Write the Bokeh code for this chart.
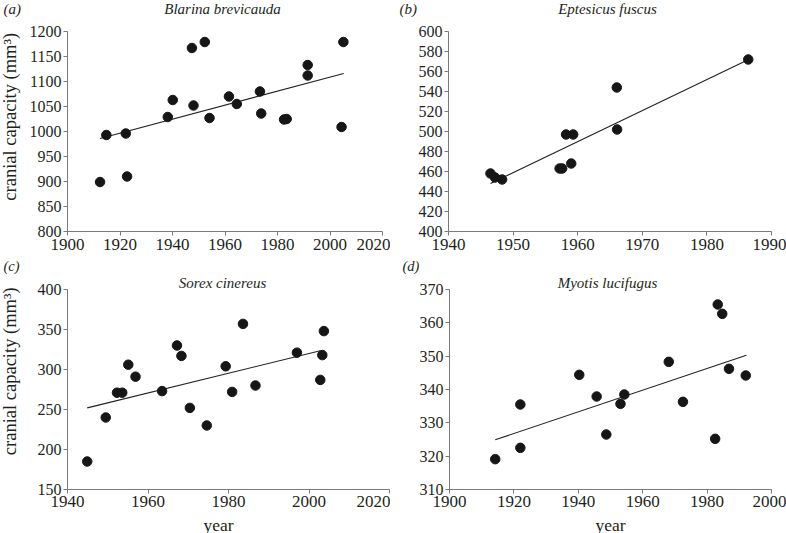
import math
from bokeh.plotting import figure
from bokeh.models import Range1d, FixedTicker, Label
from bokeh.layouts import column, row
from bokeh.embed import file_html
from bokeh.resources import INLINE

# ---------------- data ----------------
blarina_year = [1912.4, 1914.8, 1922.2, 1922.7, 1938.2, 1940.1, 1947.4, 1948.0, 1952.3, 1954.1,
                1961.5, 1964.5, 1973.3, 1973.8, 1982.5, 1983.5, 1991.5, 1991.5, 2004.4, 2005.1]
blarina_cc = [899, 993, 996, 910, 1029, 1063, 1167, 1052, 1179, 1027,
              1070, 1055, 1080, 1036, 1024, 1025, 1133, 1112, 1009, 1179]
blarina_fit_year = [1912.4, 2005.2]
blarina_fit_cc = [986, 1116]

eptesicus_year = [1946.5, 1947.2, 1948.3, 1957.2, 1957.6, 1958.2, 1959.3, 1959.0, 1966.05, 1966.1, 1986.4]
eptesicus_cc = [458, 454, 452, 463, 463, 497, 497, 468, 544, 502, 572]
eptesicus_fit_year = [1946.5, 1986.3]
eptesicus_fit_cc = [448, 571.5]

sorex_year = [1944.9, 1949.5, 1952.3, 1953.6, 1955.1, 1956.9, 1963.5, 1967.2, 1968.3, 1970.4,
              1974.6, 1979.3, 1980.9, 1983.6, 1986.7, 1997.0, 2002.8, 2003.3, 2003.7]
sorex_cc = [185, 240, 271, 271, 306, 291, 273, 330, 317, 252,
            230, 304, 272, 357, 280, 321, 287, 318, 348]
sorex_fit_year = [1944.9, 2002.8]
sorex_fit_cc = [252, 323.5]

myotis_year = [1914.2, 1922.0, 1922.0, 1940.3, 1945.7, 1948.7, 1953.1, 1954.3, 1968.1, 1972.5,
               1982.5, 1983.3, 1984.7, 1986.8, 1992.0]
myotis_cc = [319.1, 322.5, 335.5, 344.4, 337.9, 326.5, 335.7, 338.5, 348.3, 336.3,
             325.2, 365.5, 362.7, 346.2, 344.2]
myotis_fit_year = [1914.2, 1992.2]
myotis_fit_cc = [324.9, 350.3]

a_xticks = [1900, 1920, 1940, 1960, 1980, 2000, 2020]
a_yticks = [800, 850, 900, 950, 1000, 1050, 1100, 1150, 1200]
b_xticks = [1940, 1950, 1960, 1970, 1980, 1990]
b_yticks = [400, 420, 440, 460, 480, 500, 520, 540, 560, 580, 600]
c_xticks = [1940, 1960, 1980, 2000, 2020]
c_yticks = [150, 200, 250, 300, 350, 400]
d_xticks = [1900, 1920, 1940, 1960, 1980, 2000]
d_yticks = [310, 320, 330, 340, 350, 360, 370]

titles = ["Blarina brevicauda", "Eptesicus fuscus", "Sorex cinereus", "Myotis lucifugus"]
letters = ["(a)", "(b)", "(c)", "(d)"]
ylabel = "cranial capacity (mm\u00b3)"
xlabel = "year"

FONT = "Liberation Serif"
TXT = "#231f20"
AXC = "#7a7a7a"
W = 786
AXIS_H = 200   # pixel height of the drawn y axis (from first to last tick)
SHIFT = 5      # labels render this many px below (across the text) the anchor


def panel(xs, ys, fx, fy, xt, yt, width, height, bl, br, bt, bb, standoff, extra_top=0):
    """extra_top: pixels of frame kept above the last y tick (room for an in-frame title)."""
    y_end = yt[-1] + extra_top * (yt[-1] - yt[0]) / AXIS_H
    p = figure(width=width, height=height, output_backend="svg", toolbar_location=None,
               title=None,
               x_range=Range1d(xt[0], xt[-1]), y_range=Range1d(yt[0], y_end),
               min_border_left=bl, min_border_right=br, min_border_top=bt, min_border_bottom=bb)
    p.outline_line_color = None
    p.xgrid.visible = False
    p.ygrid.visible = False
    for ax, t, fs in ((p.xaxis, xt, "17px"), (p.yaxis, yt, "16px")):
        ax.ticker = FixedTicker(ticks=t)
        ax.axis_line_color = AXC
        ax.axis_line_width = 1
        ax.major_tick_line_color = AXC
        ax.major_tick_in = 0
        ax.major_tick_out = 4
        ax.minor_tick_line_color = None
        ax.major_label_text_font = FONT
        ax.major_label_text_font_size = fs
        ax.major_label_text_color = TXT
    p.yaxis.bounds = (yt[0], yt[-1])
    p.xaxis.major_label_standoff = standoff
    p.yaxis.major_label_standoff = 2
    p.line(fx, fy, line_color="#222222", line_width=1.1)
    p.scatter(xs, ys, marker="circle", size=9.5, fill_color="#161616", line_color="#161616")
    # frame geometry (canvas pixels) for placing texts
    p.tags = [dict(left=bl, right=width - br, top=bt, bottom=height - bb,
                   x0=xt[0], x1=xt[-1], y0=yt[0], y1=y_end)]
    return p


def strip(width, height):
    """A plain text strip: its frame fills the whole canvas, one unit = one pixel."""
    p = figure(width=width, height=height, output_backend="svg", toolbar_location=None,
               title=None,
               x_range=Range1d(0, width), y_range=Range1d(0, height),
               x_axis_location=None, y_axis_location=None,
               min_border=0, min_border_left=0, min_border_right=0,
               min_border_top=0, min_border_bottom=0)
    p.outline_line_color = None
    p.grid.visible = False
    return p


def label(text, x, y, align, baseline, italic, size, angle=0.0):
    return Label(x=x, y=y, text=text, text_font=FONT, text_font_size=size, text_color=TXT,
                 text_align=align, text_baseline=baseline, angle=angle,
                 text_font_style="italic" if italic else "normal")


def lab(p, text, x, base_y, align="left", italic=False, size="15px"):
    """Horizontal text whose baseline should land at canvas row base_y."""
    p.add_layout(label(text, x, p.height - (base_y - SHIFT), align, "alphabetic", italic, size))


def vlab(p, text, cx, cy, size="18.5px"):
    """Text reading upwards, centred on canvas point (cx, cy) (empirical anchor correction)."""
    p.add_layout(label(text, cx - 4, p.height - (cy + 6), "center", "middle", False, size,
                       angle=math.pi / 2))


def in_frame(p, text, cx, base_y, size="15px", italic=True):
    """Centred text with its baseline at canvas pixel (cx, base_y), given in data units."""
    g = p.tags[0]
    cy = base_y - SHIFT
    x = g["x0"] + (cx - g["left"]) * (g["x1"] - g["x0"]) / (g["right"] - g["left"])
    y = g["y0"] + (g["bottom"] - cy) * (g["y1"] - g["y0"]) / (g["bottom"] - g["top"])
    p.add_layout(label(text, x, y, "center", "alphabetic", italic, size))


# header above the top row (y 0..20)
h1 = strip(W, 20)
lab(h1, letters[0], 3, 13.5, italic=True)
lab(h1, titles[0], 222, 13.5, align="center", italic=True)
lab(h1, letters[1], 399, 13.5, italic=True)
lab(h1, titles[1], 607, 13.5, align="center", italic=True)

# top row (y 20..257)
TOP1 = 20
sa = strip(25, 237)
vlab(sa, ylabel, 13, 115 - TOP1)
pa = panel(blarina_year, blarina_cc, blarina_fit_year, blarina_fit_cc, a_xticks, a_yticks,
           365, 237, 42, 8, 11, 26, 3)
pb = panel(eptesicus_year, eptesicus_cc, eptesicus_fit_year, eptesicus_fit_cc, b_xticks, b_yticks,
           396, 237, 58, 15, 11, 26, 3)

# header between rows (y 257..274)
h2 = strip(W, 17)
lab(h2, letters[2], 3, 13, italic=True, size="14.5px")
lab(h2, letters[3], 402, 13, italic=True, size="14.5px")

# bottom row (y 274..514); frames start at the row top, axes drawn from the 15th pixel
TOP2 = 274
sc = strip(25, 240)
vlab(sc, ylabel, 13, 376 - TOP2)
pc = panel(sorex_year, sorex_cc, sorex_fit_year, sorex_fit_cc, c_xticks, c_yticks,
           365, 240, 42, 1, 0, 25, 2, extra_top=15)
pd = panel(myotis_year, myotis_cc, myotis_fit_year, myotis_fit_cc, d_xticks, d_yticks,
           396, 240, 59, 15, 0, 25, 2, extra_top=15)
in_frame(pc, titles[2], 222 - 25, 287.5 - TOP2)
in_frame(pd, titles[3], 607 - 390, 287.5 - TOP2)

# footer with the x-axis titles (y 514..533)
f1 = strip(W, 19)
lab(f1, xlabel, 218, 15, align="center", size="17.5px")
lab(f1, xlabel, 610, 15, align="center", size="17.5px")

layout = column(h1, row(sa, pa, pb), h2, row(sc, pc, pd), f1)
open("out.html", "w").write(file_html(layout, INLINE))
